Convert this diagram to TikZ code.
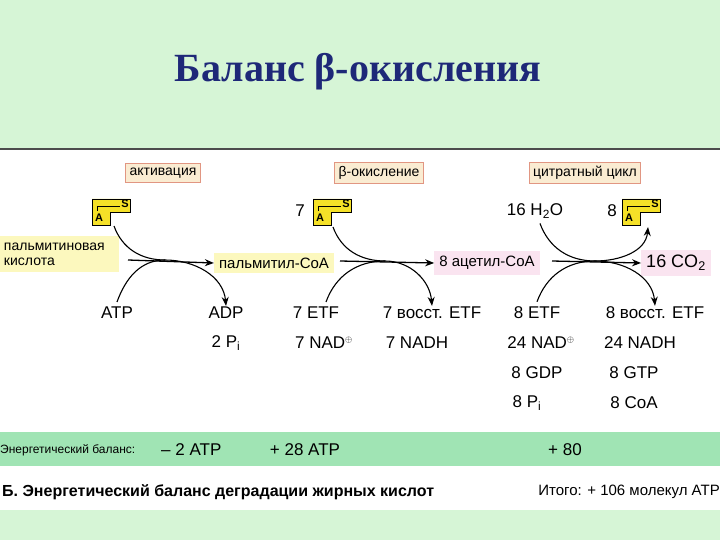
\documentclass[tikz,border=0pt]{standalone}
\usepackage{fontspec}
\setmainfont{Liberation Sans}
\newfontfamily\titlefont{Liberation Serif}
\usetikzlibrary{arrows.meta}
\definecolor{bgg}{RGB}{214,245,214}
\definecolor{bandg}{RGB}{160,228,180}
\definecolor{hdrfill}{RGB}{250,236,210}
\definecolor{hdrdraw}{RGB}{225,150,130}
\definecolor{ylw}{RGB}{252,248,190}
\definecolor{pnk}{RGB}{250,228,240}
\definecolor{ttl}{RGB}{30,40,120}
\definecolor{icony}{RGB}{245,225,40}
\tikzset{
  hdr/.style={draw=hdrdraw,fill=hdrfill,line width=1pt,inner sep=4pt,font=\fontsize{14}{16}\selectfont},
  lab/.style={font=\fontsize{17}{19}\selectfont,inner sep=1pt},
  sub/.style={fill=ylw,font=\fontsize{15}{17}\selectfont,inner sep=5pt},
  arr/.style={line width=1.3pt,-{Stealth[length=9pt,width=7pt]}},
  crv/.style={line width=1.1pt},
  crva/.style={line width=1.1pt,-{Stealth[length=9pt,width=7pt]}},
}
\newcommand{\coaicon}[2]{% #1 x, #2 y (top-left)
  \begin{scope}[shift={(#1,#2)}]
    \draw[fill=icony,line width=0.8pt] (0,0)--(38,0)--(38,13)--(18,13)--(18,26)--(0,26)--cycle;
    \draw[line width=0.7pt] (5,12)--(5,7)--(28,7);
    \node[font=\fontsize{11}{11}\selectfont\bfseries,inner sep=0] at (7,19) {A};
    \node[font=\fontsize{11}{11}\selectfont\bfseries,inner sep=0] at (33,5) {S};
  \end{scope}}
\begin{document}
\begin{tikzpicture}[x=1pt,y=-1pt]
\useasboundingbox (0,0) rectangle (720,540);
% backgrounds
\fill[bgg] (0,0) rectangle (720,148);
\fill[white] (0,148) rectangle (720,430);
\draw[black!70,line width=1.5pt] (0,149)--(720,149);
\fill[bandg] (0,432) rectangle (720,466);
\fill[white] (0,466) rectangle (720,510);
\fill[bgg] (0,510) rectangle (720,540);
\node[font=\titlefont\bfseries\fontsize{40}{44}\selectfont,text=ttl] (title) at (358,72) {Баланс β-окисления};
% headers
\node[hdr] (h1) at (163,173) {активация};
\node[hdr] (h2) at (379,173) {β-окисление};
\node[hdr] (h3) at (585,173) {цитратный цикл};
% icons
\coaicon{92}{199}
\coaicon{313}{199}
\coaicon{622}{199}
\node[lab] (n7) at (300,211) {7};
\node[lab] (n8) at (612,211) {8};
\node[lab] (h2o) at (535,211) {16 H\textsubscript{2}O};
\coordinate (ic1) at (114,226);
\coordinate (ic2) at (333,227);
\coordinate (ic3) at (648,227);
% substrates
\node[sub,minimum width=118pt,minimum height=36pt,text width=110pt,align=left,font=\fontsize{14}{15}\selectfont] (palm) at (59,254) {пальмитиновая\\кислота};
\node[sub] (palmcoa) at (274,263) {пальмитил-СоА};
\node[sub,fill=pnk] (acet) at (487,263) {8 ацетил-СоА};
\node[sub,fill=pnk,font=\fontsize{18}{20}\selectfont] (co2) at (676,263) {16 CO\textsubscript{2}};
\coordinate (a1) at (128,260);
\coordinate (a2) at (340,261);
\coordinate (a3) at (552,261);
\draw[arr] (a1) -- (palmcoa.west);
\draw[arr] (a2) -- (acet.west);
\draw[arr] (a3) -- (co2.west);
% junctions
\coordinate (j1) at (165,260);
\coordinate (j2) at (385,261);
\coordinate (j3) at (595,261);
% products
\node[lab] (atp) at (117,313) {ATP};
\node[lab] (adp) at (226,313) {ADP};
\node[lab] (pi2) at (226,343) {2 P\textsubscript{i}};
\node[lab] (etf7) at (316,313) {7 ETF};
\node[lab] (ved7) at (432,313) {7 восст. ETF};
\node[lab] (nad7) at (324,343) {7 NAD\textsuperscript{\small$\oplus$}};
\node[lab] (nadh7) at (417,343) {7 NADH};
\node[lab] (etf8) at (537,313) {8 ETF};
\node[lab] (ved8) at (655,313) {8 восст. ETF};
\node[lab] (nad24) at (541,343) {24 NAD\textsuperscript{\small$\oplus$}};
\node[lab] (nadh24) at (640,343) {24 NADH};
\node[lab] (gdp) at (537,373) {8 GDP};
\node[lab] (gtp) at (634,373) {8 GTP};
\node[lab] (pi8) at (527,403) {8 P\textsubscript{i}};
\node[lab] (coa8) at (634,403) {8 CoA};
% curves activation
\draw[crv] (ic1) to[out=-70,in=180] (j1);
\draw[crv] (atp.north) ++(0,-4) coordinate (atpn) (atpn) to[out=70,in=180] (j1);
\draw[crva] (j1) to[out=0,in=95] (adp.north);
% beta
\draw[crv] (ic2) to[out=-70,in=180] (j2);
\draw[crv] (etf7.north) ++(10,-4) coordinate (etfn) (etfn) to[out=70,in=180] (j2);
\draw[crva] (j2) to[out=0,in=95] (ved7.north);
% citrate
\draw[crv] (h2o.south) ++(5,4) coordinate (h2on) (h2on) to[out=-70,in=180] (j3);
\draw[crva] (j3) to[out=0,in=-95] (ic3);
\draw[crv] (etf8.north) ++(0,-4) coordinate (etf8n) (etf8n) to[out=70,in=180] (j3);
\draw[crva] (j3) to[out=0,in=95] (ved8.north);
% energy band
\node[font=\fontsize{12}{14}\selectfont,anchor=west,inner sep=0] (eb) at (0,450) {Энергетический баланс:};
\node[lab,anchor=west] (m2) at (160,450) {– 2 ATP};
\node[lab] (p28) at (305,450) {+ 28 ATP};
\node[lab] (p80) at (565,450) {+ 80};
\node[font=\fontsize{16}{18}\selectfont\bfseries,anchor=west,inner sep=0] (btitle) at (2,492) {Б. Энергетический баланс деградации жирных кислот};
\node[font=\fontsize{15}{17}\selectfont,anchor=east,inner sep=0] (tot) at (720,492) {Итого: + 106 молекул ATP};
\end{tikzpicture}
\end{document}
